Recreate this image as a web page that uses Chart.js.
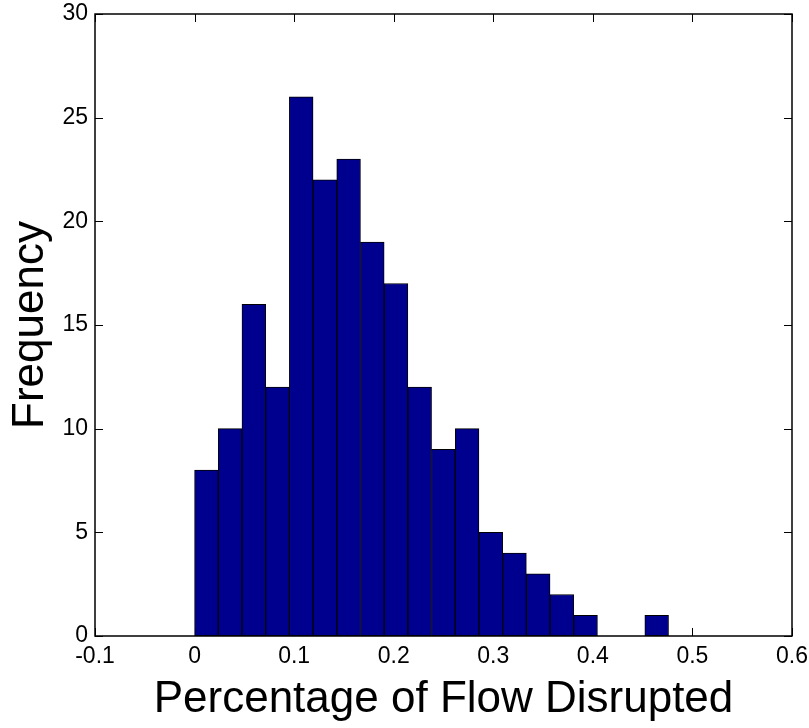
<!DOCTYPE html>
<html>
<head>
<meta charset="utf-8">
<script src="https://cdn.jsdelivr.net/npm/chart.js@4"></script>
<style>
  body { margin: 0; background: #fff; }
</style>
</head>
<body>
<canvas id="histChart" width="809" height="728"></canvas>
<script>
// bin centres and counts (20 bins, 0 .. ~0.476)
const binCenters = [0.0119, 0.0357, 0.0595, 0.0833, 0.1071, 0.1309, 0.1547, 0.1785, 0.2023, 0.2261,
                    0.2499, 0.2737, 0.2975, 0.3213, 0.3451, 0.3689, 0.3927, 0.4165, 0.4403, 0.4641];
const frequency = [8, 10, 16, 12, 26, 22, 23, 19, 17, 12, 9, 10, 5, 4, 3, 2, 1, 0, 0, 1];
const xTicks = [-0.1, 0, 0.1, 0.2, 0.3, 0.4, 0.5, 0.6];
const yTicks = [0, 5, 10, 15, 20, 25, 30];

const tickFont = { family: "'Liberation Sans Narrow', 'Liberation Sans', Arial", size: 23 };
const titleFont = { family: "'Liberation Sans', Arial", size: 44 };

// matlab style frame: box round the axes, ticks pointing inward
const axesBox = {
    id: 'axesBox',
    beforeDatasetsDraw(chart) {
        const { ctx, chartArea: a, scales } = chart;
        const len = 8;
        ctx.save();
        ctx.strokeStyle = '#000';
        ctx.lineWidth = 1;
        ctx.beginPath();
        xTicks.forEach(v => {
            const px = Math.round(scales.x.getPixelForValue(v)) + 0.5;
            ctx.moveTo(px, a.bottom); ctx.lineTo(px, a.bottom - len);
            ctx.moveTo(px, a.top); ctx.lineTo(px, a.top + len);
        });
        yTicks.forEach(v => {
            const py = Math.round(scales.y.getPixelForValue(v)) + 0.5;
            ctx.moveTo(a.left, py); ctx.lineTo(a.left + len, py);
            ctx.moveTo(a.right, py); ctx.lineTo(a.right - len, py);
        });
        ctx.stroke();
        ctx.restore();
    },
    afterDatasetsDraw(chart) {
        const { ctx, chartArea: a } = chart;
        ctx.save();
        ctx.strokeStyle = '#000';
        ctx.lineWidth = 1.5;
        ctx.strokeRect(a.left, a.top, a.right - a.left, a.bottom - a.top);
        ctx.restore();
    }
};

// keep the plot box where the reference has it, labels may overhang the padding
function noOverhang(scale) {
    scale.paddingTop = 0;
    scale.paddingBottom = 0;
    scale.paddingLeft = 0;
    scale.paddingRight = 0;
}

const ctx = document.getElementById('histChart').getContext('2d');
new Chart(ctx, {
    type: 'bar',
    data: {
        datasets: [{
            label: 'Frequency',
            data: binCenters.map((x, i) => ({ x: x, y: frequency[i] })),
            backgroundColor: '#00008f',
            borderColor: '#000000',
            borderWidth: 1,
            borderSkipped: false,
            barPercentage: 1.0,
            categoryPercentage: 1.0,
        }],
    },
    plugins: [axesBox],
    options: {
        responsive: false,
        animation: false,
        layout: { padding: { top: 14, right: 17, left: 0, bottom: 0 } },
        plugins: {
            legend: { display: false },
            tooltip: { enabled: false },
        },
        scales: {
            x: {
                type: 'linear',
                offset: false,
                min: -0.1,
                max: 0.6,
                afterBuildTicks: scale => { scale.ticks = xTicks.map(v => ({ value: v })); },
                afterFit: scale => { scale.height = 92; noOverhang(scale); },
                grid: { display: false, drawTicks: false, offset: false },
                border: { display: false },
                ticks: {
                    color: '#000',
                    font: tickFont,
                    padding: 7,
                    maxRotation: 0,
                    callback: v => String(Number(v.toFixed(1))),
                },
                title: {
                    display: true,
                    text: 'Percentage of Flow Disrupted',
                    color: '#000',
                    font: titleFont,
                    padding: { top: 0, bottom: 2 },
                },
            },
            y: {
                min: 0,
                max: 30,
                afterBuildTicks: scale => { scale.ticks = yTicks.map(v => ({ value: v })); },
                afterFit: scale => { scale.width = 95; noOverhang(scale); },
                grid: { display: false, drawTicks: false },
                border: { display: false },
                ticks: {
                    color: '#000',
                    font: tickFont,
                    padding: 7,
                },
                title: {
                    display: true,
                    text: 'Frequency',
                    color: '#000',
                    font: titleFont,
                    padding: { top: 4, bottom: 0 },
                },
            },
        },
    },
});
</script>
</body>
</html>
